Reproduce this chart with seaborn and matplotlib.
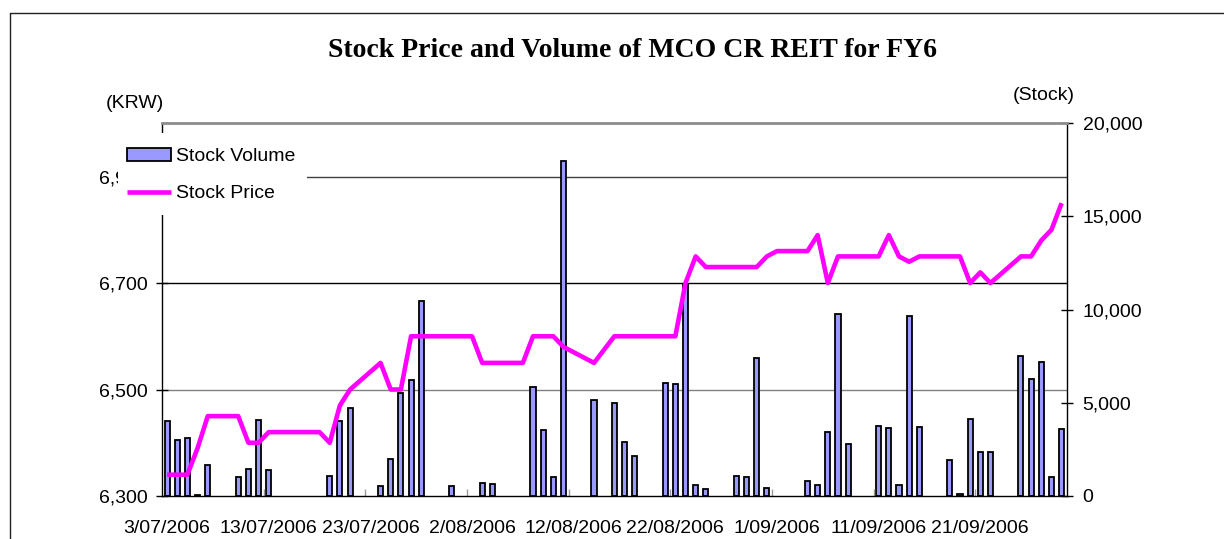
import numpy as np
import pandas as pd
import matplotlib
matplotlib.use("Agg")
import matplotlib.pyplot as plt
import matplotlib.transforms as mtransforms
from matplotlib.lines import Line2D
from matplotlib.patches import Rectangle
from matplotlib.ticker import FuncFormatter
import seaborn as sns

# ---------------- data ----------------
dates = [
    "2006-07-03", "2006-07-04", "2006-07-05", "2006-07-06", "2006-07-07",
    "2006-07-10", "2006-07-11", "2006-07-12", "2006-07-13", "2006-07-14",
    "2006-07-18", "2006-07-19", "2006-07-20", "2006-07-21",
    "2006-07-24", "2006-07-25", "2006-07-26", "2006-07-27", "2006-07-28",
    "2006-07-31", "2006-08-01", "2006-08-02", "2006-08-03", "2006-08-04",
    "2006-08-07", "2006-08-08", "2006-08-09", "2006-08-10", "2006-08-11",
    "2006-08-14", "2006-08-16", "2006-08-17", "2006-08-18",
    "2006-08-21", "2006-08-22", "2006-08-23", "2006-08-24", "2006-08-25",
    "2006-08-28", "2006-08-29", "2006-08-30", "2006-08-31", "2006-09-01",
    "2006-09-04", "2006-09-05", "2006-09-06", "2006-09-07", "2006-09-08",
    "2006-09-11", "2006-09-12", "2006-09-13", "2006-09-14", "2006-09-15",
    "2006-09-18", "2006-09-19", "2006-09-20", "2006-09-21", "2006-09-22",
    "2006-09-25", "2006-09-26", "2006-09-27", "2006-09-28", "2006-09-29",
]

stock_volume = [
    4050, 3000, 3130, 50, 1660,
    1020, 1430, 4080, 1380, 0,
    0, 1070, 4040, 4700,
    520, 1990, 5550, 6240, 10470,
    520, 0, 0, 680, 630,
    0, 5870, 3540, 1040, 17980,
    5150, 4990, 2880, 2130,
    6070, 5990, 11350, 590, 360,
    1070, 1000, 7390, 410, 0,
    790, 570, 3420, 9750, 2770,
    3780, 3670, 570, 9680, 3700,
    1930, 90, 4150, 2380, 2380,
    7510, 6280, 7190, 1040, 3600,
]

stock_price = [
    6340, 6340, 6340, 6390, 6450,
    6450, 6400, 6400, 6420, 6420,
    6420, 6400, 6470, 6500,
    6550, 6500, 6500, 6600, 6600,
    6600, 6600, 6600, 6550, 6550,
    6550, 6600, 6600, 6600, 6580,
    6550, 6600, 6600, 6600,
    6600, 6600, 6700, 6750, 6730,
    6730, 6730, 6730, 6750, 6760,
    6760, 6790, 6700, 6750, 6750,
    6750, 6790, 6750, 6740, 6750,
    6750, 6750, 6700, 6720, 6700,
    6750, 6750, 6780, 6800, 6850,
]

x_tick_labels = ["3/07/2006", "13/07/2006", "23/07/2006", "2/08/2006",
                 "12/08/2006", "22/08/2006", "1/09/2006", "11/09/2006",
                 "21/09/2006"]
price_ticks = [6300, 6500, 6700, 6900]
price_grid = [6500, 6700, 6900]
volume_ticks = [0, 5000, 10000, 15000, 20000]

title = "Stock Price and Volume of MCO CR REIT for FY6"

# ---------------- frame ----------------
sns.set_theme(style="white")
plt.rcParams["font.family"] = ["Liberation Sans", "DejaVu Sans"]
plt.rcParams["text.color"] = "black"
plt.rcParams["axes.labelcolor"] = "black"
plt.rcParams["xtick.color"] = "black"
plt.rcParams["ytick.color"] = "black"

df = pd.DataFrame({"date": pd.to_datetime(dates),
                   "volume": stock_volume,
                   "price": stock_price})
start = pd.Timestamp("2006-07-03")
df["day"] = (df["date"] - start).dt.days

W, H = 1224, 539
fig = plt.figure(figsize=(W / 100, H / 100), dpi=100)
fig.patch.set_facecolor("white")

x0, x1, ytop, ybot = 162, 1066.7, 123.3, 496
ax_p = fig.add_axes([x0 / W, 1 - ybot / H, (x1 - x0) / W, (ybot - ytop) / H])
ax_v = ax_p.twinx()
ax_p.set_zorder(ax_v.get_zorder() + 1)
ax_p.patch.set_visible(False)

# volume bars (right axis)
sns.barplot(data=df, x="day", y="volume", native_scale=True, ax=ax_v,
            color="#9999FF", saturation=1, width=0.5, edgecolor="black",
            linewidth=1.3, errorbar=None, label="Stock Volume", zorder=2)
if ax_v.get_legend() is not None:
    ax_v.get_legend().remove()
# no outline for empty (zero-volume) days
for patch in ax_v.containers[0]:
    if patch.get_height() == 0:
        patch.set_linewidth(0)

# price line (left axis)
sns.lineplot(data=df, x="day", y="price", ax=ax_p, color="#FF00FF",
             linewidth=3.3, errorbar=None, label="Stock Price", legend=False,
             solid_joinstyle="round", solid_capstyle="butt", zorder=3)

ax_p.set_xlim(-0.5, 88.5)
ax_v.set_xlim(-0.5, 88.5)
ax_p.set_ylim(6300, 7000)
ax_v.set_ylim(0, 20000)

# horizontal gridlines from price axis, drawn beneath bars
trans = mtransforms.blended_transform_factory(ax_v.transAxes, ax_p.transData)
grid_colors = ["#808080", "#000000", "#404040"]
for gy, gc in zip(price_grid, grid_colors):
    ax_v.add_line(Line2D([0, 1], [gy, gy], transform=trans, color=gc,
                         lw=1.0, zorder=0.5))

ax_p.set_xlabel("")
ax_p.set_ylabel("")
ax_v.set_xlabel("")
ax_v.set_ylabel("")

# spines
for s in ["top", "left", "bottom"]:
    ax_v.spines[s].set_visible(False)
ax_v.spines["right"].set_color("black")
ax_v.spines["right"].set_linewidth(1.0)
ax_p.spines["right"].set_visible(False)
ax_p.spines["left"].set_color("black")
ax_p.spines["left"].set_linewidth(1.0)
ax_p.spines["bottom"].set_color("black")
ax_p.spines["bottom"].set_linewidth(1.0)
ax_p.spines["top"].set_color("#8c8c8c")
ax_p.spines["top"].set_linewidth(2.0)

# ticks
ax_p.set_yticks(price_ticks)
ax_p.yaxis.set_major_formatter(FuncFormatter(lambda v, p: f"{v:,.0f}"))
ax_p.tick_params(axis="y", which="major", left=True, right=False,
                 labelleft=True, direction="inout", length=9, width=1,
                 color="black", pad=6, labelsize=14, labelcolor="black")

ax_v.set_yticks(volume_ticks)
ax_v.yaxis.set_major_formatter(FuncFormatter(lambda v, p: f"{v:,.0f}"))
ax_v.tick_params(axis="y", which="major", right=True, left=False,
                 labelright=True, labelleft=False, direction="inout",
                 length=9, width=1, color="black", pad=7, labelsize=14,
                 labelcolor="black")

ax_p.set_xticks(np.arange(0, 81, 10))
ax_p.set_xticklabels(x_tick_labels)
ax_p.set_xticks(np.arange(9.5, 81, 10), minor=True)
ax_p.tick_params(axis="x", which="major", bottom=True, length=0, pad=17,
                 labelsize=14, labelcolor="black")
ax_p.tick_params(axis="x", which="minor", bottom=True, direction="in",
                 length=5, width=1, color="#999999")

ax_p.grid(False)
ax_v.grid(False)

# legend background box (covers spine, gridline and part of a tick label)
bg = Rectangle((118 / W, 1 - 215 / H), (307 - 118) / W, (215 - 133) / H,
               transform=fig.transFigure, facecolor="white",
               edgecolor="none", zorder=9, clip_on=False)
ax_p.add_artist(bg)

# legend
handles = [ax_v.containers[0], ax_p.lines[0]]
leg = ax_p.legend(handles, ["Stock Volume", "Stock Price"],
                  loc="upper left", bbox_to_anchor=(118 / W, 1 - 139 / H),
                  bbox_transform=fig.transFigure, frameon=False,
                  borderpad=0.45, borderaxespad=0,
                  handlelength=2.25, handletextpad=0.3, labelspacing=1.0,
                  fontsize=14)
leg.set_zorder(10)
for t in leg.get_texts():
    t.set_color("black")

# texts
fig.text(632 / W, 1 - 57 / H, title, ha="center", va="baseline",
         fontsize=20, fontweight="bold", color="black",
         family=["Liberation Serif", "DejaVu Serif"])
fig.text(135 / W, 1 - 104 / H, "(KRW)", ha="center", va="center",
         fontsize=14, color="black")
fig.text(1044 / W, 1 - 96 / H, "(Stock)", ha="center", va="center",
         fontsize=14, color="black")

# chart area border (left and top)
fig.add_artist(Line2D([9.5 / W, 9.5 / W], [0, 1 - 13 / H],
                      transform=fig.transFigure, color="#222222", lw=1))
fig.add_artist(Line2D([9.5 / W, 1], [1 - 13 / H, 1 - 13 / H],
                      transform=fig.transFigure, color="#222222", lw=1))

fig.savefig("out.png", dpi=100, facecolor="white")
